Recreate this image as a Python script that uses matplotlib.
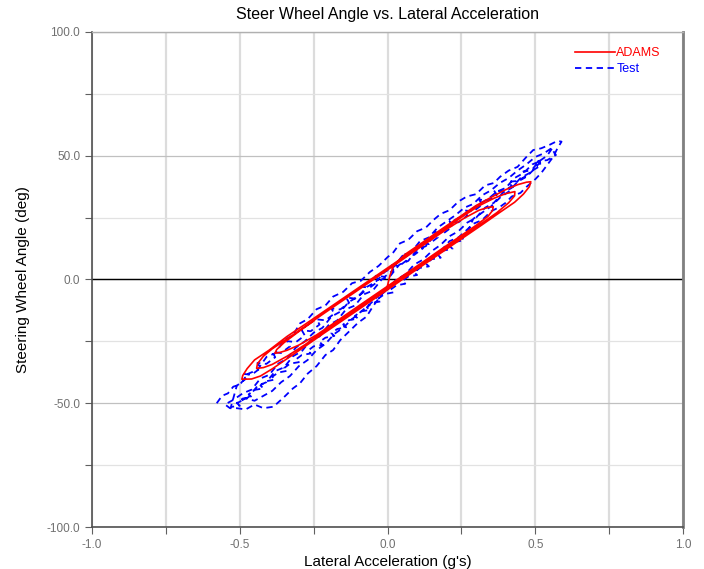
import matplotlib.pyplot as plt
from matplotlib.ticker import MultipleLocator, FormatStrFormatter

plt.rcParams['font.family'] = ['Liberation Sans', 'DejaVu Sans']

# ADAMS simulation: lateral acceleration (g) / steering wheel angle (deg)
adams_x = [0.000, 0.008, 0.02,
           0.06, 0.12, 0.18, 0.24, 0.30, 0.36, 0.40, 0.44, 0.47, 0.485,
           0.48, 0.46, 0.43, 0.38, 0.32, 0.26, 0.20, 0.14, 0.08, 0.02, -0.04, -0.10,
           -0.16, -0.22, -0.28, -0.34, -0.39, -0.43, -0.46, -0.493,
           -0.49, -0.475, -0.45, -0.40, -0.34, -0.28, -0.22, -0.16, -0.10, -0.04, 0.02,
           0.08, 0.14, 0.20, 0.26, 0.31, 0.36, 0.40, 0.431,
           0.43, 0.41, 0.37, 0.32, 0.26, 0.20, 0.14, 0.08, 0.02, -0.04, -0.10, -0.16,
           -0.22, -0.28, -0.34, -0.39, -0.42, -0.443,
           -0.44, -0.42, -0.39, -0.34, -0.28, -0.22, -0.16, -0.10, -0.04, 0.02, 0.08,
           0.14, 0.20, 0.26, 0.31, 0.34, 0.358,
           0.355, 0.34, 0.30, 0.24, 0.18, 0.12, 0.06, 0.00, -0.06, -0.12, -0.18, -0.24,
           -0.30, -0.34, -0.365, -0.381,
           -0.375, -0.35, -0.30, -0.25]
adams_y = [-2.5, 1.5, 5.5,
           10.2, 15.1, 20.1, 25.0, 29.9, 33.8, 36.3, 38.3, 39.3, 39.5,
           37.5, 34.5, 31.2, 27.1, 22.1, 17.2, 12.3, 7.4, 2.5, -2.5, -7.4, -12.3,
           -17.2, -22.1, -27.1, -32.0, -36.1, -39.0, -40.2, -40.3,
           -38.8, -36.0, -32.5, -28.5, -23.0, -18.2, -13.3, -8.4, -3.5, 1.4, 6.3,
           11.2, 16.1, 21.0, 25.9, 29.8, 32.8, 34.7, 35.5,
           33.8, 31.0, 27.0, 22.8, 17.9, 13.0, 8.1, 3.2, -1.8, -6.7, -11.6, -16.5,
           -21.4, -26.4, -31.0, -34.3, -35.6, -35.9,
           -34.0, -31.0, -28.0, -24.0, -19.1, -14.1, -9.2, -4.3, 0.6, 5.5, 10.5,
           15.4, 20.3, 24.8, 28.0, 29.1, 29.4,
           27.8, 25.5, 21.9, 17.0, 12.1, 7.1, 2.2, -2.7, -7.6, -12.5, -17.5, -22.4,
           -26.5, -28.6, -29.5, -29.8,
           -28.3, -25.5, -21.0, -16.8]

# Test measurement (noisy, several cycles)
test_x = [-0.578, -0.56, -0.54, -0.522, -0.50, -0.47, -0.44, -0.409, -0.38, -0.35, -0.32,
          -0.296, -0.27, -0.24, -0.21, -0.184, -0.15, -0.12, -0.09, -0.06, -0.03, 0.00,
          0.02, 0.042, 0.07, 0.10, 0.13, 0.155, 0.18, 0.21, 0.24, 0.268, 0.30, 0.33,
          0.36, 0.381, 0.41, 0.44, 0.47, 0.493, 0.52, 0.55, 0.575, 0.589,
          0.575, 0.561, 0.545, 0.52, 0.50, 0.471, 0.45, 0.42, 0.40, 0.381, 0.35, 0.32,
          0.29, 0.268, 0.24, 0.21, 0.18, 0.155, 0.13, 0.10, 0.07, 0.042, 0.01, -0.02,
          -0.05, -0.071, -0.10, -0.13, -0.16, -0.184, -0.21, -0.24, -0.27, -0.296,
          -0.32, -0.35, -0.386, -0.42, -0.45, -0.48, -0.51, -0.533, -0.55,
          -0.52, -0.49, -0.46, -0.43, -0.40, -0.37, -0.34, -0.31, -0.28, -0.25, -0.22,
          -0.19, -0.16, -0.13, -0.10, -0.07, -0.04, -0.01, 0.02, 0.05, 0.08, 0.11,
          0.14, 0.17, 0.20, 0.23, 0.26, 0.29, 0.32, 0.35, 0.38, 0.41, 0.44, 0.47,
          0.50, 0.53, 0.56,
          0.54, 0.51, 0.48, 0.45, 0.42, 0.39, 0.36, 0.33, 0.30, 0.27, 0.24, 0.21,
          0.18, 0.15, 0.12, 0.09, 0.06, 0.03, 0.00, -0.03, -0.06, -0.09, -0.12, -0.15,
          -0.18, -0.21, -0.24, -0.27, -0.30, -0.33, -0.36, -0.39, -0.42, -0.45, -0.48,
          -0.51,
          -0.47, -0.44, -0.41, -0.38, -0.35, -0.32, -0.29, -0.26, -0.23, -0.20, -0.17,
          -0.14, -0.11, -0.08, -0.05, -0.02, 0.01, 0.04, 0.07, 0.10, 0.13, 0.16, 0.19,
          0.22, 0.25, 0.28, 0.31, 0.34, 0.37, 0.40, 0.43, 0.46, 0.49, 0.52,
          0.50, 0.47, 0.44, 0.41, 0.38, 0.35, 0.32, 0.29,
          0.27, 0.25, 0.26, 0.23, 0.21, 0.22, 0.19, 0.17, 0.18, 0.15, 0.13,
          0.14, 0.11, 0.09, 0.10, 0.07, 0.05, 0.06, 0.03, 0.01, 0.02, -0.01,
          -0.03, -0.02, -0.05, -0.07, -0.06, -0.09, -0.11, -0.10, -0.13, -0.15,
          -0.14, -0.17, -0.19, -0.18, -0.21, -0.23, -0.22, -0.25, -0.27, -0.26,
          -0.29, -0.31, -0.30, -0.33, -0.35, -0.34, -0.37, -0.39, -0.38, -0.41,
          -0.43, -0.42, -0.45, -0.47, -0.46, -0.49, -0.51, -0.50, -0.53,
          -0.51, -0.48, -0.49, -0.46, -0.43, -0.44, -0.41, -0.38, -0.39, -0.36, -0.33,
          -0.34, -0.31, -0.28, -0.29, -0.26, -0.23, -0.24, -0.21, -0.18, -0.19, -0.16,
          -0.13, -0.14, -0.11, -0.08, -0.09, -0.06, -0.03, -0.04, -0.01, 0.02, 0.01,
          0.04, 0.07, 0.06, 0.09, 0.12, 0.11, 0.14, 0.17, 0.16, 0.19, 0.22, 0.21,
          0.24, 0.27, 0.26, 0.29, 0.32, 0.31, 0.34, 0.37, 0.36, 0.39, 0.42, 0.41,
          0.44, 0.47, 0.46, 0.49, 0.52, 0.51, 0.54, 0.57, 0.56]
test_y = [-50.0, -47.0, -46.0, -43.3, -42.5, -38.0, -36.5, -31.2, -29.8, -24.5, -22.5,
          -17.7, -16.0, -12.0, -10.5, -6.9, -5.0, -1.5, -0.5, 3.0, 5.5, 9.0,
          11.0, 14.6, 16.0, 19.5, 21.0, 24.0, 26.5, 28.0, 31.5, 33.5, 34.5, 38.0,
          39.0, 41.5, 44.0, 45.5, 49.5, 52.3, 53.0, 54.5, 56.0, 55.7,
          53.0, 49.6, 47.0, 43.0, 40.5, 37.5, 35.0, 33.5, 31.0, 29.4, 27.5, 24.0,
          22.5, 20.0, 17.0, 15.5, 11.5, 9.2, 7.5, 4.0, 2.5, -0.2, -3.0, -6.0,
          -11.0, -15.0, -17.5, -21.0, -24.5, -28.5, -30.5, -35.0, -38.0, -41.9,
          -44.0, -47.5, -51.4, -52.0, -50.5, -52.5, -52.0, -52.0, -50.5,
          -48.5, -46.0, -44.5, -40.0, -38.5, -34.0, -32.0, -27.5, -25.0, -21.5, -19.5,
          -15.0, -13.0, -9.0, -7.0, -3.0, -1.0, 3.0, 5.0, 9.5, 11.0, 15.5,
          17.0, 21.0, 23.5, 26.0, 29.0, 30.5, 34.0, 36.0, 39.0, 41.0, 44.0, 46.5,
          49.5, 51.0, 53.5,
          50.0, 47.5, 43.0, 41.0, 37.0, 35.0, 31.0, 29.0, 25.0, 23.0, 19.5, 17.5,
          14.0, 11.5, 8.0, 6.0, 2.0, 0.0, -4.0, -6.5, -10.0, -13.0, -16.0, -19.5,
          -22.0, -26.0, -28.5, -32.5, -35.0, -39.0, -41.5, -45.0, -47.0, -49.0, -48.0,
          -50.0,
          -47.5, -43.0, -41.5, -37.0, -35.5, -31.0, -29.0, -24.5, -23.0, -18.5, -16.5,
          -12.0, -10.5, -6.0, -4.5, 0.0, 1.5, 6.0, 7.5, 12.0, 13.5, 18.0, 19.5,
          23.5, 25.5, 28.0, 30.5, 32.5, 35.5, 37.0, 41.0, 43.0, 46.5, 48.0,
          45.0, 41.5, 39.5, 35.5, 33.0, 29.5, 27.0, 24.5,
          18.8, 17.0, 15.9, 15.2, 13.5, 12.4, 11.7, 10.0, 8.8, 8.2, 6.4,
          5.3, 4.7, 2.9, 1.8, 1.2, -0.6, -1.7, -2.4, -4.1, -5.2, -5.9,
          -7.6, -8.8, -9.4, -11.2, -12.3, -12.9, -14.7, -15.8, -16.4, -18.2,
          -19.3, -20.0, -21.7, -22.8, -23.5, -25.2, -26.4, -27.0, -28.8, -29.9,
          -30.5, -32.3, -33.4, -34.0, -35.8, -36.9, -37.6, -39.3, -40.4, -41.1,
          -42.8, -44.0, -44.6, -46.4, -47.5, -48.1, -49.9, -51.0, -51.5,
          -42.9, -40.2, -38.1, -38.5, -35.8, -33.7, -34.1, -31.4, -29.3, -29.7, -27.0,
          -24.9, -25.3, -22.6, -20.5, -20.9, -18.2, -16.1, -16.5, -13.8, -11.7, -12.1,
          -9.4, -7.3, -7.7, -5.0, -2.9, -3.3, -0.6, 1.5, 1.1, 3.8, 5.9,
          5.5, 8.2, 10.3, 9.9, 12.6, 14.7, 14.3, 17.0, 19.1, 18.7, 21.4, 23.5,
          23.1, 25.8, 27.9, 27.5, 30.2, 32.3, 31.9, 34.2, 36.0, 35.6, 37.7, 39.5,
          39.8, 41.9, 43.7, 44.0, 46.1, 47.9, 48.2, 50.3, 52.0]

fig = plt.figure(figsize=(7.04, 5.69), dpi=100)
ax = fig.add_axes([0.1307, 0.0738, 0.8395, 0.87])

ax.plot(adams_x, adams_y, color='#ff0000', lw=1.2, label='ADAMS', zorder=3)
ax.plot(test_x, test_y, color='#0000ff', lw=1.3, linestyle=(0, (3.5, 2.5)),
        label='Test', zorder=2)

ax.set_xlim(-1, 1)
ax.set_ylim(-100, 100)
ax.xaxis.set_major_locator(MultipleLocator(0.5))
ax.xaxis.set_minor_locator(MultipleLocator(0.25))
ax.yaxis.set_major_locator(MultipleLocator(50))
ax.yaxis.set_minor_locator(MultipleLocator(25))
ax.xaxis.set_major_formatter(FormatStrFormatter('%.1f'))
ax.yaxis.set_major_formatter(FormatStrFormatter('%.1f'))

ax.grid(True, axis='x', which='both', color='#dcdcdc', lw=1.6, zorder=0)
ax.grid(True, axis='y', which='major', color='#c0c0c0', lw=0.9, zorder=0)
ax.grid(True, axis='y', which='minor', color='#e2e2e2', lw=0.9, zorder=0)
ax.axhline(0, color='black', lw=1, zorder=1.8)

ax.tick_params(which='both', direction='out', length=5, width=0.8,
               color='#606060', labelcolor='#707070', labelsize=8.5)
for s in ['left', 'bottom']:
    ax.spines[s].set_color('#505050')
    ax.spines[s].set_linewidth(1.2)
ax.spines['right'].set_color('#808080')
ax.spines['right'].set_linewidth(2)
ax.spines['top'].set_color('#b0b0b0')
ax.spines['top'].set_linewidth(1)

ax.set_title('Steer Wheel Angle vs. Lateral Acceleration', fontsize=11.5, pad=9)
ax.set_xlabel('Lateral Acceleration (g\'s)', fontsize=11, labelpad=3)
ax.set_ylabel('Steering Wheel Angle (deg)', fontsize=11, labelpad=12)

ax.legend(loc='upper right', bbox_to_anchor=(0.971, 0.98), frameon=False,
          fontsize=9, labelcolor='linecolor', handlelength=3.2,
          handletextpad=0.1, labelspacing=0.35, borderaxespad=0)

fig.savefig('out.png', dpi=100)
